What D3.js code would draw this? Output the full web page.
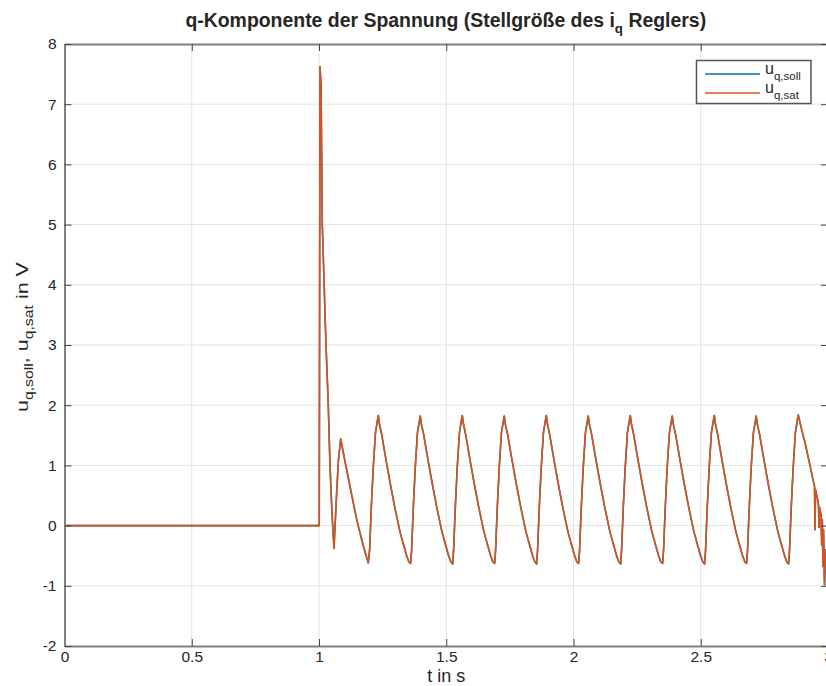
<!DOCTYPE html>
<html>
<head>
<meta charset="utf-8">
<script src="https://cdn.jsdelivr.net/npm/d3@7"></script>
<style>
  html, body { margin: 0; padding: 0; background: #fff; }
  svg { display: block; }
  text { font-family: "Liberation Sans", Arial, Helvetica, sans-serif; fill: #262626; }
</style>
</head>
<body>
<svg id="chart" width="826" height="686"></svg>
<script>
// ---------------- data ----------------
const xTicks = [0, 0.5, 1, 1.5, 2, 2.5, 3];
const xTickLabels = ["0", "0.5", "1", "1.5", "2", "2.5", "3"];
const yTicks = [-2, -1, 0, 1, 2, 3, 4, 5, 6, 7, 8];
const yTickLabels = ["-2", "-1", "0", "1", "2", "3", "4", "5", "6", "7", "8"];

// time in s
const timeS = [
  0, 1.001, 1.004, 1.008, 1.013, 1.0275, 1.0365, 1.0432, 1.0511, 1.0589, 1.0688, 1.0766, 1.0853,
  1.0955, 1.1218, 1.1481, 1.1741, 1.1937,
  1.199, 1.205, 1.213, 1.222, 1.233,
  1.237, 1.246, 1.263, 1.279, 1.298, 1.318, 1.333, 1.345, 1.353, 1.360, 1.364, 1.370, 1.378, 1.387, 1.398,
  1.402, 1.411, 1.428, 1.444, 1.463, 1.483, 1.498, 1.510, 1.518, 1.525, 1.529, 1.535, 1.543, 1.552, 1.563,
  1.567, 1.576, 1.593, 1.609, 1.628, 1.648, 1.663, 1.675, 1.683, 1.690, 1.694, 1.700, 1.708, 1.717, 1.728,
  1.732, 1.741, 1.758, 1.774, 1.793, 1.813, 1.828, 1.840, 1.848, 1.855, 1.859, 1.865, 1.873, 1.882, 1.893,
  1.897, 1.906, 1.923, 1.939, 1.958, 1.978, 1.993, 2.005, 2.013, 2.020, 2.024, 2.030, 2.038, 2.047, 2.058,
  2.062, 2.071, 2.088, 2.104, 2.123, 2.143, 2.158, 2.170, 2.178, 2.185, 2.189, 2.195, 2.203, 2.212, 2.223,
  2.227, 2.236, 2.253, 2.269, 2.288, 2.308, 2.323, 2.335, 2.343, 2.350, 2.354, 2.360, 2.368, 2.377, 2.388,
  2.392, 2.401, 2.418, 2.434, 2.453, 2.473, 2.488, 2.500, 2.508, 2.515, 2.519, 2.525, 2.533, 2.542, 2.553,
  2.557, 2.566, 2.583, 2.599, 2.618, 2.638, 2.653, 2.665, 2.673, 2.680, 2.684, 2.690, 2.698, 2.707, 2.718,
  2.722, 2.731, 2.748, 2.764, 2.783, 2.803, 2.818, 2.830, 2.838, 2.845, 2.849, 2.855, 2.863, 2.872, 2.883,
  2.8967, 2.9096, 2.9293, 2.9411, 2.947, 2.9489, 2.9509, 2.9568, 2.9627, 2.9646, 2.9666, 2.9725, 2.9753,
  2.9776, 2.9804, 2.9823, 2.9862, 2.9921, 3.0
];

// u_q,sat in V (saturated controller output)
const uqSat = [
  0, 0, 7.62, 7.3, 5.0, 3.0, 2.0, 1.0, 0.2, -0.38, 0.5, 1.1, 1.44,
  1.21, 0.65, 0.10, -0.34, -0.62,
  -0.40, 0.25, 0.95, 1.55, 1.83,
  1.70, 1.52, 1.10, 0.72, 0.30, -0.10, -0.33, -0.51, -0.60, -0.63, -0.40, 0.25, 0.95, 1.55, 1.82,
  1.69, 1.52, 1.10, 0.72, 0.30, -0.10, -0.33, -0.51, -0.60, -0.64, -0.40, 0.25, 0.95, 1.55, 1.83,
  1.70, 1.52, 1.10, 0.72, 0.30, -0.10, -0.33, -0.51, -0.60, -0.63, -0.40, 0.25, 0.95, 1.55, 1.82,
  1.69, 1.52, 1.10, 0.72, 0.30, -0.10, -0.33, -0.51, -0.60, -0.64, -0.40, 0.25, 0.95, 1.55, 1.83,
  1.70, 1.52, 1.10, 0.72, 0.30, -0.10, -0.33, -0.51, -0.60, -0.63, -0.40, 0.25, 0.95, 1.55, 1.82,
  1.69, 1.52, 1.10, 0.72, 0.30, -0.10, -0.33, -0.51, -0.60, -0.64, -0.40, 0.25, 0.95, 1.55, 1.83,
  1.70, 1.52, 1.10, 0.72, 0.30, -0.10, -0.33, -0.51, -0.60, -0.63, -0.40, 0.25, 0.95, 1.55, 1.82,
  1.69, 1.52, 1.10, 0.72, 0.30, -0.10, -0.33, -0.51, -0.60, -0.64, -0.40, 0.25, 0.95, 1.55, 1.83,
  1.70, 1.52, 1.10, 0.72, 0.30, -0.10, -0.33, -0.51, -0.60, -0.63, -0.40, 0.25, 0.95, 1.55, 1.82,
  1.69, 1.52, 1.10, 0.72, 0.30, -0.10, -0.33, -0.51, -0.60, -0.64, -0.40, 0.25, 0.95, 1.55, 1.84,
  1.59, 1.38, 1.0, 0.76, 0.66, -0.07, 0.6, 0.48, 0.35, -0.03, 0.3, 0.18, -0.32,
  0.1, -0.68, -0.07, -0.98, -0.4, -0.6
];

// u_q,soll in V: identical to u_q,sat in the picture (completely covered by it)
const uqSoll = uqSat.slice();

const seriesNames = ["q,soll", "q,sat"];
const seriesColors = ["#0072BD", "#D95319"];

// ---------------- drawing ----------------
const svg = d3.select("#chart");
const W = 826, H = 686;
const plot = { left: 64.5, right: 828, top: 44, bottom: 646 };

svg.append("rect").attr("width", W).attr("height", H).attr("fill", "#fff");

const x = d3.scaleLinear().domain([0, 3]).range([plot.left, plot.right]);
const y = d3.scaleLinear().domain([-2, 8]).range([plot.bottom, plot.top]);

// grid
const grid = svg.append("g").attr("stroke", "#e3e3e3").attr("stroke-width", 1);
grid.selectAll("line.gx").data(xTicks.slice(1, -1)).join("line")
  .attr("x1", d => x(d)).attr("x2", d => x(d))
  .attr("y1", plot.top).attr("y2", plot.bottom);
grid.selectAll("line.gy").data(yTicks.slice(1, -1)).join("line")
  .attr("x1", plot.left).attr("x2", plot.right)
  .attr("y1", d => y(d)).attr("y2", d => y(d));

// lines
svg.append("clipPath").attr("id", "clip").append("rect")
  .attr("x", plot.left).attr("y", plot.top)
  .attr("width", plot.right - plot.left).attr("height", plot.bottom - plot.top);

const line = d3.line().x((d, i) => x(timeS[i])).y(d => y(d));
const lines = svg.append("g").attr("clip-path", "url(#clip)");
[uqSoll, uqSat].forEach((vals, k) => {
  lines.append("path").datum(vals)
    .attr("fill", "none")
    .attr("stroke", seriesColors[k])
    .attr("stroke-width", 1.6)
    .attr("stroke-linejoin", "round")
    .attr("d", line);
});

// axes (box with inward ticks on all sides)
const tickLen = 7;
const axisColor = "#808080";
const axG = svg.append("g");
const xAxisB = d3.axisBottom(x).tickValues(xTicks).tickSize(-tickLen).tickSizeOuter(0)
  .tickFormat((d, i) => xTickLabels[i]).tickPadding(5);
const gxb = axG.append("g").attr("transform", `translate(0,${plot.bottom})`).call(xAxisB);
const xAxisT = d3.axisTop(x).tickValues(xTicks).tickSize(-tickLen).tickSizeOuter(0).tickFormat("");
const gxt = axG.append("g").attr("transform", `translate(0,${plot.top})`).call(xAxisT);
const yAxisL = d3.axisLeft(y).tickValues(yTicks).tickSize(-tickLen).tickSizeOuter(0)
  .tickFormat((d, i) => yTickLabels[i]).tickPadding(8);
const gyl = axG.append("g").attr("transform", `translate(${plot.left},0)`).call(yAxisL);
const yAxisR = d3.axisRight(y).tickValues(yTicks).tickSize(-tickLen).tickSizeOuter(0).tickFormat("");
const gyr = axG.append("g").attr("transform", `translate(${plot.right},0)`).call(yAxisR);

[gxb, gxt, gyl, gyr].forEach(g => {
  g.select(".domain").attr("stroke", axisColor).attr("stroke-width", 2);
  g.selectAll(".tick line").attr("stroke", "#444").attr("stroke-width", 1);
  g.selectAll(".tick text").attr("font-family", "Liberation Sans, Arial, sans-serif")
    .attr("font-size", 15.5).attr("fill", "#333");
});

// title (font size fitted so that it spans like the reference)
const title = svg.append("text")
  .attr("x", (plot.left + plot.right) / 2 - 0.5).attr("y", 27)
  .attr("text-anchor", "middle").attr("font-weight", "bold").attr("font-size", 19);
title.append("tspan").text("q-Komponente der Spannung (Stellgröße des i");
title.append("tspan").attr("dy", 6).attr("font-size", 13).text("q");
title.append("tspan").attr("dy", -6).text(" Reglers)");
{
  const w = title.node().getComputedTextLength();
  const target = 521;
  if (w > 0) {
    const f = target / w;
    title.attr("font-size", 19 * f);
    title.selectAll("tspan").filter((d, i) => i === 1).attr("font-size", 13 * f);
  }
}

// x label
svg.append("text").attr("x", (plot.left + plot.right) / 2).attr("y", 682)
  .attr("text-anchor", "middle").attr("font-size", 18).text("t in s");

// y label (glyphs slightly stretched along the text, as in the reference)
const yl = svg.append("text")
  .attr("text-anchor", "start").attr("font-size", 17);
yl.append("tspan").text("u");
yl.append("tspan").attr("class", "sub").attr("dy", 5).attr("font-size", 12.5).text("q,soll");
yl.append("tspan").attr("dy", -5).text(", u");
yl.append("tspan").attr("class", "sub").attr("dy", 5).attr("font-size", 12.5).text("q,sat");
yl.append("tspan").attr("dy", -5).text(" in V");
{
  const target = 150;
  const w = yl.node().getComputedTextLength();
  const s = w > 0 ? target / w : 1;
  yl.attr("transform", `translate(28,${337 + target / 2}) rotate(-90) scale(${s},1)`);
}

// legend
const lg = svg.append("g");
lg.append("rect").attr("x", 696.5).attr("y", 60.5).attr("width", 114.5).attr("height", 43)
  .attr("fill", "#fff").attr("stroke", "#555").attr("stroke-width", 1.5);
const legY = [74, 93];
seriesNames.forEach((name, k) => {
  lg.append("line").attr("x1", 705).attr("x2", 760).attr("y1", legY[k]).attr("y2", legY[k])
    .attr("stroke", seriesColors[k]).attr("stroke-width", 1.6);
  const t = lg.append("text").attr("x", 765).attr("y", legY[k]).attr("font-size", 16);
  t.append("tspan").text("u");
  t.append("tspan").attr("dy", 6).attr("font-size", 11.5).text(name);
});
</script>
</body>
</html>
